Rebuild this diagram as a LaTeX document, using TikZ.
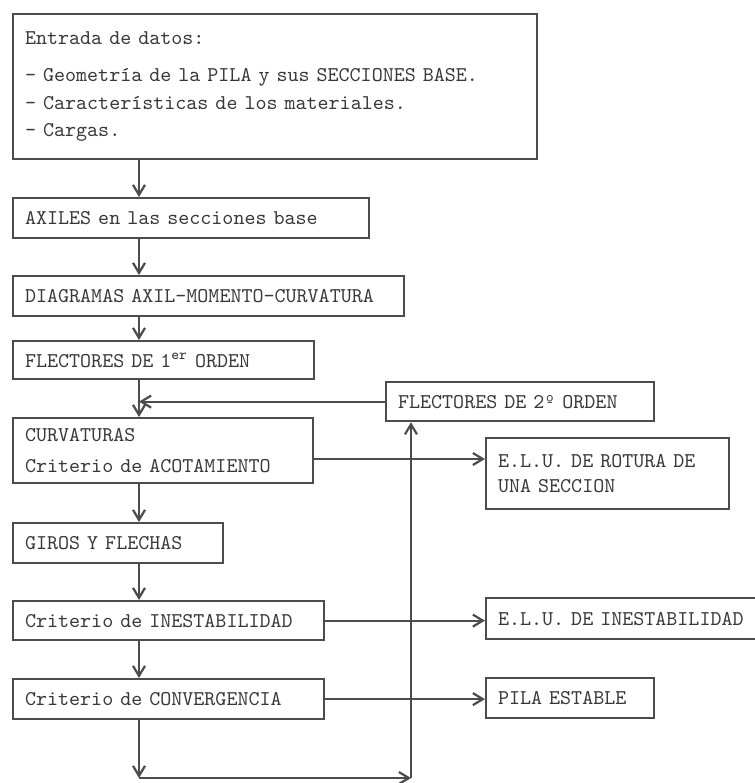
\documentclass[tikz,border=0pt]{standalone}
\usepackage{fontspec}
\usepackage{tikz}
\usetikzlibrary{arrows.meta}
\usetikzlibrary{positioning}
\definecolor{ink}{rgb}{0.22, 0.22, 0.22}
\definecolor{rule}{rgb}{0.3, 0.3, 0.3}
\newcommand{\tw}{\ttfamily\fontsize{10.5pt}{13.75pt}\selectfont}

\tikzset{
  box/.style={draw=rule, line width=1.1pt, anchor=north west, inner xsep=6pt,
    inner ysep=0pt, align=left, text=ink, font=\tw},
  flow/.style={draw=rule, line width=1.1pt, -{Straight Barb[length=5pt, width=6pt]}}
}

\begin{document}
\begin{tikzpicture}[x=0.5pt, y=-0.5pt]

    \useasboundingbox (0, 0) rectangle (755, 783);

    \node [box, text width=250pt, minimum height=72.5pt] (datos) at (12, 13)
      {Entrada de datos:\\[5pt]
       - Geometría de la PILA y sus SECCIONES BASE.\\
       - Características de los materiales.\\
       - Cargas.};
    \node [box, text width=166pt, minimum height=20pt] (axiles) at (12, 197) {AXILES en las secciones base};
    \node [box, text width=183.5pt, minimum height=20pt] (diagramas) at (12, 275) {DIAGRAMAS AXIL-MOMENTO-CURVATURA};
    \node [box, text width=138.5pt, minimum height=19pt] (flect1) at (12, 340) {FLECTORES DE 1\textsuperscript{er} ORDEN};
    \node [box, text width=138pt, minimum height=32.5pt] (curv) at (12, 417)
      {CURVATURAS\\[1.75pt]Criterio de ACOTAMIENTO};
    \node [box, text width=93pt, minimum height=20pt] (giros) at (12, 522) {GIROS Y FLECHAS};
    \node [box, text width=143.5pt, minimum height=19.5pt] (inest) at (12, 600) {Criterio de INESTABILIDAD};
    \node [box, text width=143.5pt, minimum height=20pt] (conv) at (12, 678) {Criterio de CONVERGENCIA};

    \node [box, text width=122pt, minimum height=19.5pt] (flect2) at (385, 381) {FLECTORES DE 2º ORDEN};
    \node [box, text width=109.5pt, minimum height=35.5pt] (rotura) at (485, 437)
      {E.L.U. DE ROTURA DE\\[-1.25pt]UNA SECCION};
    \node [box, text width=130.5pt, minimum height=20.5pt] (eluinest) at (485, 597) {E.L.U. DE INESTABILIDAD};
    \node [box, text width=72pt, minimum height=20pt] (estable) at (485, 677) {PILA ESTABLE};

    % main line and loop back
    \coordinate (spine) at (139, 0);
    \coordinate (rot) at (0, 459);
    \coordinate (bl) at (139, 778);
    \coordinate (br) at (411, 778);

    \draw [flow] (datos.south -| spine) -- (axiles.north -| spine);
    \draw [flow] (axiles.south -| spine) -- (diagramas.north -| spine);
    \draw [flow] (diagramas.south -| spine) -- (flect1.north -| spine);
    \draw [flow] (flect1.south -| spine) -- (curv.north -| spine);
    \draw [flow] (curv.south -| spine) -- (giros.north -| spine);
    \draw [flow] (giros.south -| spine) -- (inest.north -| spine);
    \draw [flow] (inest.south -| spine) -- (conv.north -| spine);
    \draw [flow] (conv.south -| spine) -- (bl);
    \draw [flow] (bl) -- (br);
    \draw [flow] (br) -- (flect2.south -| br);
    \draw [flow] (flect2.west) -- (flect2.west -| spine);

    \draw [flow] (curv.east |- rot) -- (rotura.west |- rot);
    \draw [flow] (inest.east) -- (inest.east -| eluinest.west);
    \draw [flow] (conv.east) -- (conv.east -| estable.west);
  \end{tikzpicture}
\end{document}
